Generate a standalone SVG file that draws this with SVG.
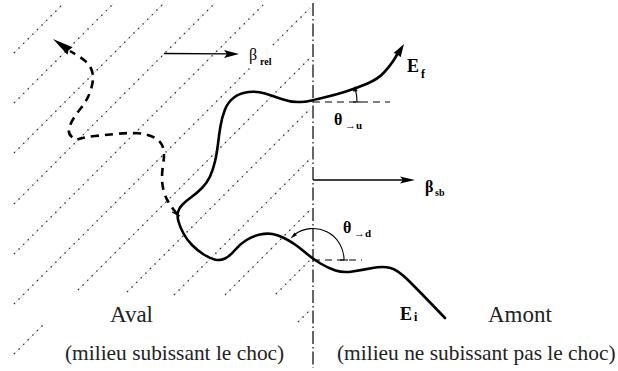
<svg xmlns="http://www.w3.org/2000/svg" width="618" height="371" viewBox="0 0 618 371">
<style>
.hbase{stroke:#cfcfcf;stroke-width:0.8;fill:none}
.hdot{stroke:#2e2e2e;stroke-width:1.4;stroke-dasharray:1.3 5.2;fill:none}
.shock{stroke:#333;stroke-width:1.5;stroke-dasharray:13 3 1.5 3;fill:none}
.traj{stroke:#000;stroke-width:2.6;fill:none;stroke-linecap:round;stroke-linejoin:round}
.dtraj{stroke:#000;stroke-width:2.6;fill:none;stroke-dasharray:8 6}
.thin{stroke:#000;stroke-width:1.1;fill:none}
.ref{stroke:#000;stroke-width:1.1;stroke-dasharray:7 5;fill:none}
.arr{stroke:#000;stroke-width:1.3;fill:none}
.head{fill:#000;stroke:none}
.big{font-family:"Liberation Serif",serif;font-size:23px;fill:#222}
.note{font-family:"Liberation Serif",serif;font-size:21.4px;fill:#222}
.lab{font-family:"Liberation Serif",serif;font-size:18px;font-weight:bold;fill:#000}
.sym{font-family:"Liberation Serif",serif;font-size:16px;fill:#000}
.sub{font-family:"Liberation Serif",serif;font-size:11px;font-weight:bold;fill:#000}
</style>
<defs>
<path id="hatchpath" d="M14,53 L62,5 M14,103 L113,4 M14,153 L163,4 M14,204 L215,3 M14,254 L263,5 M14,304 L250,68 M273,45 L310,8 M14,354 L43,325 M78,290 L310,58 M127,292 L310,109 M174,295 L310,159 M225,295 L310,210 M276,294 L310,260 M298,322 L310,310"/>
</defs>
<g id="hatching">
<use href="#hatchpath" class="hbase"/>
<use href="#hatchpath" class="hdot"/>
</g>
<g id="shock-front">
<line class="shock" x1="313" y1="3" x2="313" y2="368"/>
</g>
<g id="connectors">
<g id="beta-rel-arrow">
<line class="arr" x1="164" y1="53.5" x2="227" y2="53.8"/>
<polygon class="head" points="239,54 224,50 227,54 224,58"/>
</g>
<g id="beta-sb-arrow">
<line class="arr" x1="313" y1="180" x2="403" y2="180"/>
<polygon class="head" points="415,180 400,176.5 403,180 400,183.5"/>
</g>
<g id="solid-trajectory">
<path class="traj" d="M445,318 L432.5,305 Q420,292 409,281 Q398,270 390.5,268 Q383,266 372.5,268 Q362,270 352.5,271.5 Q343,273 335.5,270.5 Q328,268 320.5,263.5 Q313,259 306.5,253.5 Q300,248 295,244.5 Q290,241 284,238 Q278,235 272.5,234 Q267,233 260,234.5 Q253,236 246.5,240 Q240,244 235,250 Q230,256 225,258.5 Q220,261 214.5,259.5 Q209,258 203,254 Q197,250 192,245 Q187,240 183.5,233.5 Q180,227 178.5,221.5 Q177,216 178,212 Q179,208 182.5,204.5 Q186,201 191.5,197 Q197,193 202,188 Q207,183 210,176.5 Q213,170 215,161.5 Q217,153 218,144 Q219,135 220.5,126 Q222,117 225,109.5 Q228,102 234,97.5 Q240,93 248.5,92 Q257,91 265,93.5 Q273,96 281.5,99 Q290,102 297.5,102 Q305,102 309,101 Q313,100 324,97.5 Q335,95 346,91.5 Q357,88 367.5,83.5 Q378,79 384,72.5 Q390,66 393.5,60.5 Q396,56.5 398,53"/>
<polygon class="head" points="404,44 400.6,57.3 397.3,54.3 393.6,53"/>
</g>
<g id="dashed-trajectory">
<path class="dtraj" d="M177,214 L173.5,209.5 Q170,205 167.5,200.5 Q165,196 163.5,190 Q162,184 162,178 Q162,172 163,165.5 Q164,159 164,154 Q164,149 162,145 Q160,141 156,138.5 Q152,136 146,134.5 Q140,133 132.5,133 Q125,133 115,134 Q105,135 95,136 Q85,137 80.5,138.5 L76,140 L72,137 Q68,134 69,129 Q70,124 73.5,118.5 Q77,113 81,108 Q85,103 87.5,98 Q90,93 91.5,87.5 Q93,82 93,77 Q93,72 90.5,67.5 Q88,63 84,60 Q80,57 75,54 L70,51"/>
<polygon class="head" points="53,39 72.6,47.3 68.5,50.5 67.4,54.7"/>
<line class="thin" x1="172" y1="212" x2="180" y2="216"/>
</g>
<g id="angle-up">
<line class="ref" x1="313" y1="102" x2="390" y2="102"/>
<path class="thin" d="M357,102 A44,44 0 0 0 355.5,90"/>
<polygon class="head" points="355,86 352.8,91.5 357.6,91.2"/>
<line class="thin" x1="353" y1="102" x2="361" y2="102"/>
</g>
<g id="angle-down">
<line class="ref" x1="313" y1="260" x2="362" y2="260"/>
<path class="thin" d="M344,260 A31,31 0 0 0 294,235"/>
<polygon class="head" points="290.5,238.5 294.5,232.6 296.9,235.2"/>
<line class="thin" x1="340" y1="260" x2="348" y2="260"/>
</g>
</g>
<g id="label-beta-rel">
<text class="sym" x="249" y="60">β</text>
<text class="sub" x="260" y="65" style="font-size:10px">rel</text>
</g>
<g id="label-beta-sb">
<text class="sym" x="425" y="192" style="font-weight:bold">β</text>
<text class="sub" x="435" y="196" style="font-size:10px">sb</text>
</g>
<g id="label-Ef">
<text class="lab" x="407" y="72">E</text>
<text class="sub" x="421" y="78" style="font-size:12px">f</text>
</g>
<g id="label-Ei">
<text class="lab" x="400" y="320">E</text>
<text class="sub" x="414" y="321" style="font-size:12px">i</text>
</g>
<g id="label-theta-u">
<text class="sym" x="334" y="125" style="font-weight:bold">θ</text>
<text class="sub" x="345" y="129">→u</text>
</g>
<g id="label-theta-d">
<text class="sym" x="343" y="233" style="font-weight:bold">θ</text>
<text class="sub" x="354" y="237">→d</text>
</g>
<g id="label-aval">
<text class="big" x="110" y="322">Aval</text>
<text class="note" x="65" y="360">(milieu subissant le choc)</text>
</g>
<g id="label-amont">
<text class="big" x="488" y="322">Amont</text>
<text class="note" x="337" y="360">(milieu ne subissant pas le choc)</text>
</g>
</svg>
